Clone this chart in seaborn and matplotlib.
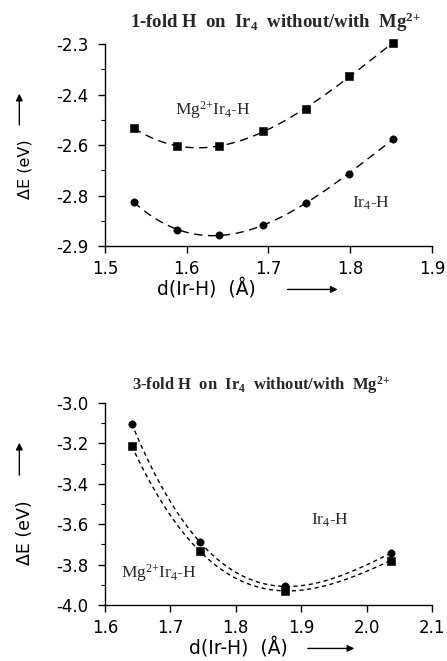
import numpy as np
import matplotlib
matplotlib.use("Agg")
import matplotlib.pyplot as plt
from matplotlib.ticker import AutoMinorLocator
import seaborn as sns

# top panel: 1-fold H
d_1fold = [1.535, 1.588, 1.640, 1.693, 1.746, 1.799, 1.852]
e_1fold_mg = [-2.549, -2.603, -2.603, -2.558, -2.493, -2.395, -2.297]
e_1fold_ir = [-2.768, -2.853, -2.867, -2.838, -2.771, -2.685, -2.583]
top_xticks = [1.5, 1.6, 1.7, 1.8, 1.9]
top_yticks = [-2.9, -2.75, -2.6, -2.45, -2.3]
top_ylabels = ["-2.9", "-2.8", "-2.6", "-2.4", "-2.3"]

# bottom panel: 3-fold H
d_3fold = [1.641, 1.745, 1.875, 2.037]
e_3fold_ir = [-3.103, -3.688, -3.908, -3.743]
e_3fold_mg = [-3.213, -3.734, -3.930, -3.780]
bot_xticks = [1.6, 1.7, 1.8, 1.9, 2.0, 2.1]
bot_yticks = [-4.0, -3.8, -3.6, -3.4, -3.2, -3.0]

sns.set_theme(style="ticks")
plt.rcParams["font.family"] = ["DejaVu Sans"]
plt.rcParams["mathtext.fontset"] = "custom"
plt.rcParams["mathtext.rm"] = "Liberation Serif"
plt.rcParams["mathtext.bf"] = "Liberation Serif:bold"
plt.rcParams["mathtext.it"] = "Liberation Serif:italic"

fig = plt.figure(figsize=(4.47, 6.61), dpi=100)
ax1 = fig.add_axes([0.2349, 0.6278, 0.7315, 0.3056])
ax2 = fig.add_axes([0.2349, 0.0847, 0.7315, 0.3056])

serif = "Liberation Serif"


def draw(ax, x, y, marker, dash):
    sns.regplot(x=x, y=y, order=3, ci=None, scatter=False, ax=ax,
                line_kws=dict(color="black", lw=1.0, ls=(0, dash), clip_on=False))
    sns.scatterplot(x=x, y=y, ax=ax, marker=marker, color="black",
                    edgecolor="black", s=28, zorder=3, legend=False, clip_on=False)


def style(ax, xticks, yticks, ylabels, xlab_x, arr_x, ylab_y, arr_y, ylab_size):
    ax.set_xlim(xticks[0], xticks[-1])
    ax.set_ylim(yticks[0], yticks[-1])
    ax.set_xticks(xticks)
    ax.set_xticklabels([f"{v:.1f}" for v in xticks])
    ax.set_yticks(yticks)
    ax.set_yticklabels(ylabels)
    ax.yaxis.set_minor_locator(AutoMinorLocator(2))
    sns.despine(ax=ax)
    for s in ["left", "bottom"]:
        ax.spines[s].set_color("black")
        ax.spines[s].set_linewidth(1.0)
    ax.tick_params(axis="both", which="major", direction="out", length=5,
                   width=1, color="black", labelsize=12, labelcolor="black")
    ax.tick_params(axis="x", pad=5)
    ax.tick_params(axis="y", pad=7)
    ax.tick_params(axis="y", which="minor", direction="out", length=3,
                   width=0.8, color="black")
    ax.set_xlabel("d(Ir-H)  (Å)", fontsize=13.5, color="black", va="center")
    ax.xaxis.set_label_coords(xlab_x, -0.215)
    ax.set_ylabel("ΔE (eV)", fontsize=ylab_size, color="black", va="center")
    ax.yaxis.set_label_coords(-0.245, ylab_y)
    ax.annotate("", xy=(arr_x[1], -0.215), xytext=(arr_x[0], -0.215),
                xycoords="axes fraction", annotation_clip=False,
                arrowprops=dict(arrowstyle="-|>", color="black", lw=1,
                                mutation_scale=10))
    ax.annotate("", xy=(-0.262, arr_y[1]), xytext=(-0.262, arr_y[0]),
                xycoords="axes fraction", annotation_clip=False,
                arrowprops=dict(arrowstyle="-|>", color="black", lw=1,
                                mutation_scale=10))
    ax.grid(False)


mg_label = r"Mg$^{2{+}}$Ir$_4$-H"
ir_label = r"Ir$_4$-H"

draw(ax1, d_1fold, e_1fold_mg, "s", (6, 4))
draw(ax1, d_1fold, e_1fold_ir, "o", (6, 4))
style(ax1, top_xticks, top_yticks, top_ylabels, 0.31, (0.55, 0.72), 0.379, (0.586, 0.768), 11.5)
ax1.text(0.215, 0.675, mg_label, transform=ax1.transAxes,
         fontsize=12.5, family=serif, ha="left", va="center")
ax1.text(0.755, 0.21, ir_label, transform=ax1.transAxes,
         fontsize=12.5, family=serif, ha="left", va="center")
fig.text(0.617, 0.967, r"1-fold H  on  Ir$_\mathbf{4}$  without/with  Mg$^{\mathbf{2{+}}}$",
         fontsize=13.5, family=serif, weight="bold", ha="center", va="center")

draw(ax2, d_3fold, e_3fold_ir, "o", (3, 2.5))
draw(ax2, d_3fold, e_3fold_mg, "s", (3, 2.5))
bot_ylabels = [f"{v:.1f}" for v in bot_yticks]
style(ax2, bot_xticks, bot_yticks, bot_ylabels, 0.407, (0.612, 0.771), 0.356, (0.629, 0.817), 12.5)
ax2.text(0.05, 0.16, mg_label, transform=ax2.transAxes,
         fontsize=12.5, family=serif, ha="left", va="center")
ax2.text(0.63, 0.42, ir_label, transform=ax2.transAxes,
         fontsize=12.5, family=serif, ha="left", va="center")
fig.text(0.584, 0.4175, r"3-fold H  on  Ir$_\mathbf{4}$  without/with  Mg$^{\mathbf{2{+}}}$",
         fontsize=12, family=serif, weight="bold", ha="center", va="center")

fig.savefig("out.png", dpi=100, facecolor="white")
